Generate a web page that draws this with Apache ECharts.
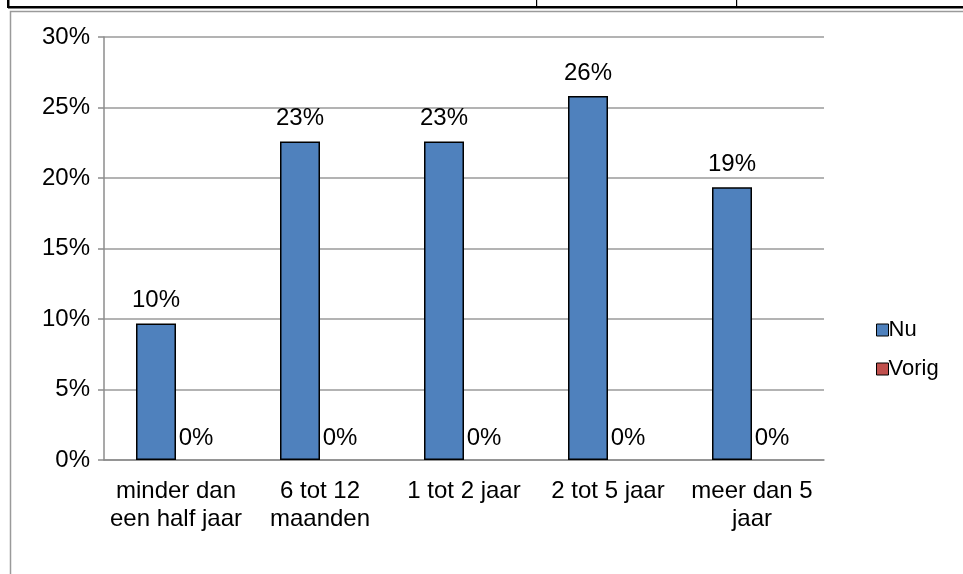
<!DOCTYPE html>
<html><head><meta charset="utf-8">
<script src="https://cdn.jsdelivr.net/npm/echarts@6/dist/echarts.min.js"></script>
<style>html,body{margin:0;padding:0;background:#fff}#c{width:963px;height:574px}</style>
</head><body><div id="c"></div>
<script>
const categories = ['minder dan\neen half jaar', '6 tot 12\nmaanden', '1 tot 2 jaar', '2 tot 5 jaar', 'meer dan 5\njaar'];
const nuValues = [9.68, 22.58, 22.58, 25.81, 19.35];
const vorigValues = [0, 0, 0, 0, 0];
const yTicks = [0, 5, 10, 15, 20, 25, 30];

const chart = echarts.init(document.getElementById('c'));
const font = 'Liberation Sans, Arial, sans-serif';
chart.setOption({
  animation: false,
  textStyle: { fontFamily: font },
  graphic: [
    { type: 'rect', shape: { x: 10.5, y: 11.5, width: 1000, height: 600 }, style: { fill: 'none', stroke: '#9a9a9a', lineWidth: 1.5 }, z: -1 },
    { type: 'rect', shape: { x: 8, y: 6, width: 960, height: 2.5 }, style: { fill: '#000' } },
    { type: 'rect', shape: { x: 7, y: 0, width: 2.5, height: 8 }, style: { fill: '#000' } },
    { type: 'rect', shape: { x: 536, y: 0, width: 1.2, height: 8 }, style: { fill: '#000' } },
    { type: 'rect', shape: { x: 736, y: 0, width: 1.2, height: 8 }, style: { fill: '#000' } }
  ],
  legend: {
    orient: 'vertical', left: 871, top: 314, itemWidth: 12, itemHeight: 12, itemGap: 17,
    icon: 'rect',
    textStyle: { fontSize: 22, color: '#000', fontFamily: font, padding: [0, 0, 0, -5] },
    itemStyle: { borderColor: '#000', borderWidth: 1 },
    data: ['Nu', 'Vorig']
  },
  grid: { left: 104, right: 139, top: 37, bottom: 114, containLabel: false },
  xAxis: {
    type: 'category', data: categories,
    axisLine: { lineStyle: { color: '#8c8c8c', width: 1.5 } },
    axisTick: { show: false },
    axisLabel: { fontSize: 24, color: '#000', lineHeight: 28, margin: 17, interval: 0, fontFamily: font }
  },
  yAxis: {
    type: 'value', min: 0, max: 30, interval: 5,
    axisLine: { show: true, lineStyle: { color: '#8c8c8c', width: 1.5 } },
    axisTick: { show: true, length: 6, lineStyle: { color: '#8c8c8c', width: 1.5 } },
    splitLine: { lineStyle: { color: '#9a9a9a', width: 1.5 } },
    axisLabel: { fontSize: 24, color: '#000', margin: 14, fontFamily: font,
      formatter: v => yTicks.includes(v) ? v + '%' : '' }
  },
  series: [
    { name: 'Nu', type: 'bar', data: nuValues, barWidth: 40, barGap: '0%',
      itemStyle: { color: '#4F81BD', borderColor: '#000', borderWidth: 1.5 },
      label: { show: true, position: 'top', distance: 11, fontSize: 24, color: '#000', fontFamily: font,
        formatter: p => Math.round(p.value) + '%' } },
    { name: 'Vorig', type: 'bar', data: vorigValues, barWidth: 40,
      itemStyle: { color: '#C0504D', borderWidth: 0 },
      label: { show: true, position: 'top', distance: 10, fontSize: 24, color: '#000', fontFamily: font,
        formatter: p => Math.round(p.value) + '%' } }
  ]
});
</script></body></html>
